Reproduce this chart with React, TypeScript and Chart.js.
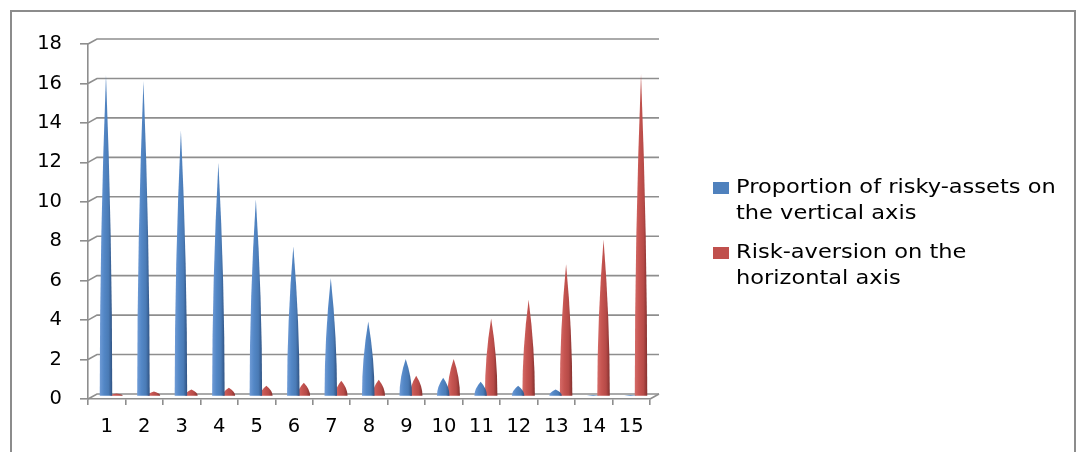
import React, { useEffect, useRef } from "react";
import { Chart, registerables } from "chart.js";

Chart.register(...registerables);

const categories = ["1", "2", "3", "4", "5", "6", "7", "8", "9", "10", "11", "12", "13", "14", "15"];
const riskyAssets = [16.3, 16.0, 13.5, 11.85, 10.0, 7.6, 6.0, 3.8, 1.9, 0.95, 0.75, 0.55, 0.35, 0.08, 0.08];
const riskAversion = [0.15, 0.25, 0.35, 0.45, 0.55, 0.7, 0.8, 0.85, 1.05, 1.9, 3.95, 4.9, 6.7, 7.95, 16.35];
const seriesNames = [
  ["Proportion of risky-assets on", "the vertical axis"],
  ["Risk-aversion on the", "horizontal axis"],
];
const seriesColors = ["#4f81bd", "#c0504d"];
const coneShades = [
  ["#6f9bd6", "#5387c6", "#4a7bb6", "#2f5282"],
  ["#d56b68", "#c65551", "#b64a47", "#84302e"],
];
const yMax = 18;
const yStep = 2;

const GRID = "#8e8e8e";
const DX = 9;
const DY = -5;

const depthPlugin = {
  id: "depth3d",
  beforeDatasetsDraw(chart: any) {
    const { ctx } = chart;
    const xs = chart.scales.x;
    const ys = chart.scales.y;
    ctx.save();
    ctx.strokeStyle = GRID;
    ctx.lineWidth = 1.6;
    ys.ticks.forEach((t: any) => {
      const py = ys.getPixelForValue(t.value);
      ctx.beginPath();
      ctx.moveTo(xs.left, py);
      ctx.lineTo(xs.left + DX, py + DY);
      ctx.lineTo(xs.right + DX, py + DY);
      ctx.stroke();
    });
    const y0 = ys.getPixelForValue(0);
    ctx.beginPath();
    ctx.moveTo(xs.right, y0);
    ctx.lineTo(xs.right + DX, y0 + DY);
    ctx.stroke();
    ctx.restore();
  },
  beforeDatasetDraw(chart: any, args: any) {
    const { ctx } = chart;
    const idx = args.index;
    const meta = args.meta;
    const shades = coneShades[idx];
    ctx.save();
    meta.data.forEach((el: any) => {
      const p = el.getProps(["x", "y", "base", "width"], true);
      const cx = p.x + DX / 2;
      const base = p.base + DY / 2;
      const tip = p.y + DY / 2;
      const hw = p.width / 2 + 1;
      const g = ctx.createLinearGradient(cx - hw, 0, cx + hw, 0);
      g.addColorStop(0, shades[0]);
      g.addColorStop(0.35, shades[1]);
      g.addColorStop(0.7, shades[2]);
      g.addColorStop(1, shades[3]);
      ctx.fillStyle = g;
      const mid = (base + tip) / 2;
      ctx.beginPath();
      ctx.moveTo(cx - hw, base);
      ctx.quadraticCurveTo(cx - hw, mid, cx, tip);
      ctx.quadraticCurveTo(cx + hw, mid, cx + hw, base);
      ctx.closePath();
      ctx.fill();
    });
    ctx.restore();
    return false;
  },
};

export default function App() {
  const ref = useRef<HTMLCanvasElement | null>(null);
  useEffect(() => {
    if (!ref.current) return;
    Chart.defaults.font.family = "'DejaVu Sans', sans-serif";
    const chart = new Chart(ref.current, {
      type: "bar",
      data: {
        labels: categories,
        datasets: [
          { label: seriesNames[0].join(" "), data: riskyAssets, backgroundColor: seriesColors[0] },
          { label: seriesNames[1].join(" "), data: riskAversion, backgroundColor: seriesColors[1] },
        ],
      },
      options: {
        responsive: false,
        animation: false,
        devicePixelRatio: 1,
        layout: { padding: { left: 0, top: 36, right: 431, bottom: 0 } },
        plugins: { legend: { display: false }, tooltip: { enabled: false } },
        datasets: { bar: { categoryPercentage: 0.56, barPercentage: 1 } },
        scales: {
          x: {
            offset: true,
            grid: { offset: true, drawOnChartArea: false, drawTicks: true, tickLength: 6, color: GRID, lineWidth: 1.6 },
            border: { display: true, color: GRID, width: 1.6 },
            ticks: { color: "#000", font: { size: 19.5 }, padding: 10, maxRotation: 0 },
            afterFit: (s: any) => { s.height = 53; },
          },
          y: {
            min: 0,
            max: yMax,
            grid: { drawOnChartArea: false, drawTicks: true, tickLength: 8, color: GRID, lineWidth: 1.6 },
            border: { display: true, color: GRID, width: 1.6 },
            ticks: { stepSize: yStep, color: "#000", font: { size: 19.5 }, padding: 18 },
            afterFit: (s: any) => { s.width = 80; },
          },
        },
      },
      plugins: [depthPlugin],
    });
    return () => chart.destroy();
  }, []);

  const legendItem = (i: number, top: number) => (
    <div key={i}>
      <div style={{ position: "absolute", left: 705, top: top + 8, width: 16, height: 12, background: seriesColors[i] }} />
      <div
        style={{
          position: "absolute",
          left: 728,
          top: top,
          fontFamily: "'DejaVu Sans', sans-serif",
          fontSize: "19.5px",
          lineHeight: "26px",
          color: "#000",
          whiteSpace: "nowrap",
          transform: "scaleX(1.155)",
          transformOrigin: "0 0",
        }}
      >
        {seriesNames[i].map((l, k) => (
          <div key={k}>{l}</div>
        ))}
      </div>
    </div>
  );

  return (
    <div style={{ position: "relative", width: 1073, height: 444, overflow: "hidden" }}>
      <div
        style={{
          position: "absolute",
          left: 2,
          top: 2,
          width: 1066,
          height: 520,
          border: "2px solid #8c8c8c",
          boxSizing: "border-box",
          background: "#fff",
        }}
      />
      <canvas ref={ref} width={1073} height={444} style={{ position: "absolute", left: 0, top: 0, width: 1073, height: 444 }} />
      {legendItem(0, 166)}
      {legendItem(1, 231)}
    </div>
  );
}
